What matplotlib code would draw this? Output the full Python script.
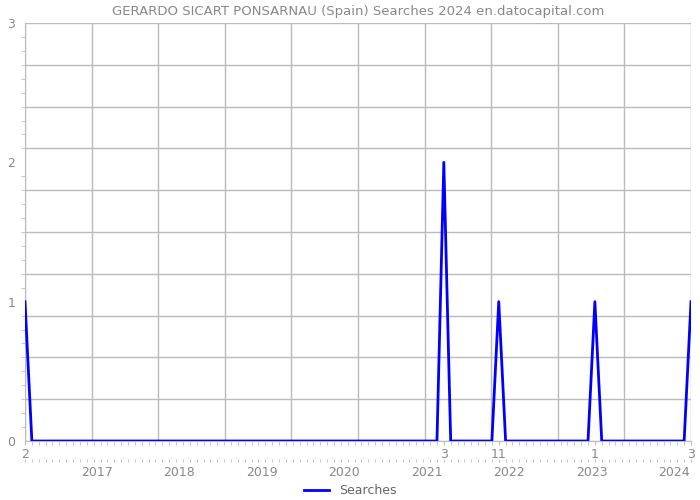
import numpy as np
import pandas as pd
import matplotlib
matplotlib.use('Agg')
import matplotlib.pyplot as plt

# Buscas mensais, fev/2016 a mar/2024
start = '2016-02'
end = '2024-03'
spike_months = ['2016-02', '2021-03', '2021-11', '2023-01', '2024-03']
spike_values = [1, 2, 1, 1, 1]
month_labels = ['2', '3', '11', '1', '3']
year_labels = ['2017', '2018', '2019', '2020', '2021', '2022', '2023', '2024']

months = pd.period_range(start, end, freq='M')
searches = pd.Series(0, index=months)
for m, v in zip(spike_months, spike_values):
    searches[pd.Period(m, 'M')] = v

x = np.arange(len(months))
gray = '#888888'
gridc = '#bbbbbb'

fig = plt.figure(figsize=(7, 5), dpi=100)
ax = fig.add_axes([25 / 700, 1 - 441 / 500, 666 / 700, 418 / 500])

# grade 10x10 independente dos ticks
for gy in np.linspace(0, 3, 11):
    ax.axhline(gy, color=gridc, lw=1, zorder=0)
for gx in np.linspace(0, x[-1], 11):
    ax.axvline(gx, color=gridc, lw=1, zorder=0)

ax.plot(x, searches.values, color='#0000ff', lw=2, label='Searches', zorder=3)

ax.set_xlim(0, x[-1])
ax.set_ylim(0, 3)
ax.set_title('GERARDO SICART PONSARNAU (Spain) Searches 2024 en.datocapital.com',
             fontsize=9.5, color=gray, pad=6)

for s in ['top', 'right']:
    ax.spines[s].set_visible(False)
for s in ['left', 'bottom']:
    ax.spines[s].set_color(gridc)

ax.set_yticks([0, 1, 2, 3])
ax.set_yticks(np.arange(0, 3.01, 0.1), minor=True)
ax.tick_params(axis='y', which='major', length=0, labelsize=9, labelcolor=gray, pad=7)
ax.tick_params(axis='y', which='minor', length=3, color=gridc)

spike_pos = [months.get_loc(pd.Period(m, 'M')) for m in spike_months]
ax.set_xticks(spike_pos)
ax.set_xticklabels(month_labels)
ax.set_xticks(x, minor=True)
ax.tick_params(axis='x', which='major', length=3, color=gridc, labelsize=9, labelcolor=gray, pad=2)
ax.tick_params(axis='x', which='minor', length=3, color=gridc)

# segunda linha: anos
sec = ax.secondary_xaxis(-0.043)
sec.spines['bottom'].set_visible(False)
year_pos = [months.get_loc(pd.Period(y + '-01', 'M')) - 0.5 for y in year_labels]
sec.set_xticks(year_pos)
sec.set_xticklabels(year_labels)
sec.set_xticks(x, minor=True)
sec.tick_params(axis='x', which='major', length=0, color=gridc, labelsize=9, labelcolor=gray, pad=5)
sec.tick_params(axis='x', which='minor', length=2, color=gridc)

leg = fig.legend(loc='lower center', bbox_to_anchor=(0.5, -0.012), frameon=False, fontsize=9,
                 handlelength=2, borderaxespad=0.3)
for t in leg.get_texts():
    t.set_color('#666666')

fig.savefig('out.png', dpi=100)
